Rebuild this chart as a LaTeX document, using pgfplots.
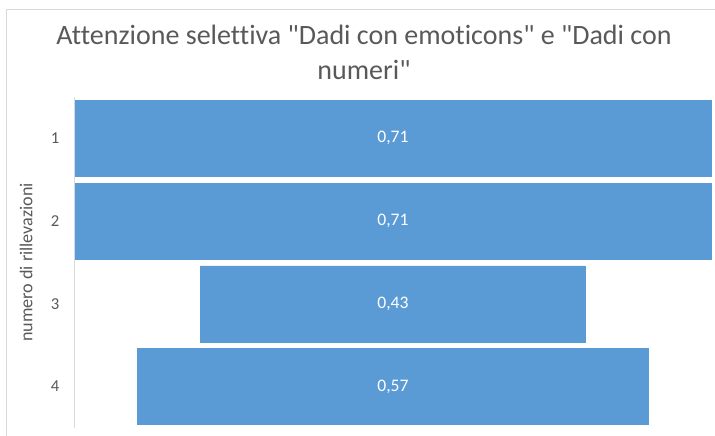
\documentclass[border=0pt]{standalone}
\usepackage{pgfplots}
\pgfplotsset{compat=1.18}
\usepackage{pgfplotstable}
\usepackage{fontspec}
\setmainfont{Carlito}[Ligatures={NoCommon}]
\definecolor{barblue}{RGB}{91,155,213}
\definecolor{titlegray}{RGB}{89,89,89}
\definecolor{axisgray}{RGB}{217,217,217}
\pgfplotstableread{
cat v
1 0.71
2 0.71
3 0.43
4 0.57
}\data
\begin{document}
\begin{tikzpicture}
\useasboundingbox (0pt,0pt) rectangle (536.25pt,327pt);
\draw[axisgray, line width=0.75pt] (4.5pt,0pt) -- (4.5pt,319.5pt) -- (536.25pt,319.5pt);
\begin{axis}[
  at={(56.25pt,254.25pt)}, anchor=north west,
  scale only axis, width=477pt, height=248.25pt,
  xmin=-0.355, xmax=0.355, ymin=0.5, ymax=4.5, y dir=reverse,
  hide x axis, axis y line*=left,
  y axis line style={draw=axisgray, line width=0.75pt},
  ytick={1,2,3,4}, major tick length=0pt,
  yticklabel style={anchor=center, xshift=-15pt, text=titlegray, font=\fontsize{12.5}{14}\selectfont},
  /pgf/number format/assume math mode=true,
  ylabel={numero di rillevazioni},
  every axis y label/.style={at={(axis description cs:-0.077,0.5)}, rotate=90, anchor=center, text=titlegray, font=\fontsize{13.6}{15}\selectfont},
  title={Attenzione selettiva \textquotedbl Dadi con emoticons\textquotedbl{} e \textquotedbl Dadi con\\numeri\textquotedbl},
  title style={at={(axis description cs:0.4544,1)}, anchor=south, yshift=6.75pt, inner sep=0pt, align=center, text=titlegray, font=\fontsize{21}{26.25}\selectfont},
  clip=false,
]
\addplot[xbar, bar width=57pt, bar shift=0pt, fill=barblue, draw=barblue, line width=0.4pt]
  table[x expr=\thisrow{v}/2, y=cat]{\data};
\addplot[xbar, bar width=57pt, bar shift=0pt, fill=barblue, draw=barblue, line width=0.4pt]
  table[x expr=-\thisrow{v}/2, y=cat]{\data};
\addplot[draw=none, mark=none, nodes near coords, point meta=explicit,
  every node near coord/.style={anchor=center, text=white, font=\fontsize{13.2}{15}\selectfont,
    /pgf/number format/.cd, use comma, fixed, precision=2, fixed zerofill}]
  table[x expr=0, y=cat, meta=v]{\data};
\end{axis}
\end{tikzpicture}
\end{document}
